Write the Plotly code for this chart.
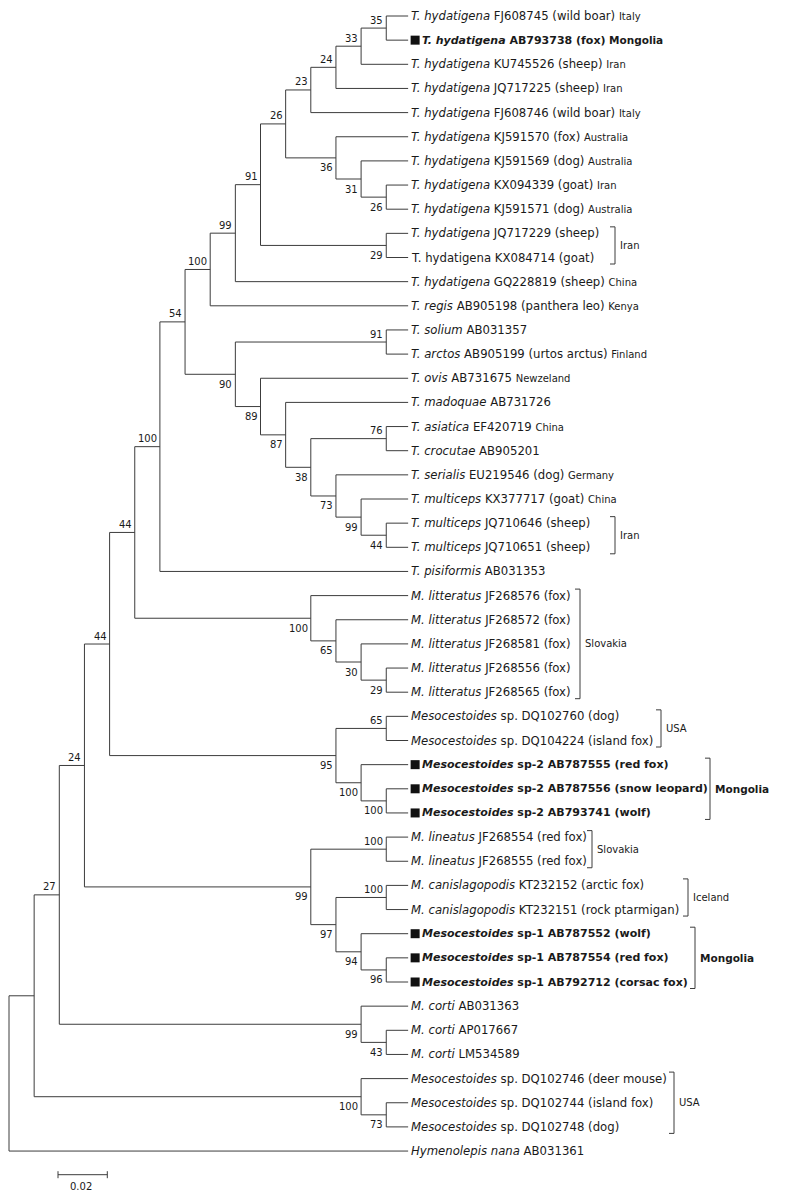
import plotly.graph_objects as go

# ---------------- data ----------------
# leaf labels: (italic part, plain part, inline country, bold/marked)
leaf_italic = [
    "T. hydatigena", "T. hydatigena", "T. hydatigena", "T. hydatigena", "T. hydatigena",
    "T. hydatigena", "T. hydatigena", "T. hydatigena", "T. hydatigena", "T. hydatigena",
    "", "T. hydatigena", "T. regis", "T. solium", "T. arctos",
    "T. ovis", "T. madoquae", "T. asiatica", "T. crocutae", "T. serialis",
    "T. multiceps", "T. multiceps", "T. multiceps", "T. pisiformis",
    "M. litteratus", "M. litteratus", "M. litteratus", "M. litteratus", "M. litteratus",
    "Mesocestoides", "Mesocestoides",
    "Mesocestoides", "Mesocestoides", "Mesocestoides",
    "M. lineatus", "M. lineatus", "M. canislagopodis", "M. canislagopodis",
    "Mesocestoides", "Mesocestoides", "Mesocestoides",
    "M. corti", "M. corti", "M. corti",
    "Mesocestoides", "Mesocestoides", "Mesocestoides",
    "Hymenolepis nana",
]
leaf_plain = [
    "FJ608745 (wild boar)", "AB793738 (fox)", "KU745526 (sheep)", "JQ717225 (sheep)", "FJ608746 (wild boar)",
    "KJ591570 (fox)", "KJ591569 (dog)", "KX094339 (goat)", "KJ591571 (dog)", "JQ717229 (sheep)",
    "T. hydatigena KX084714 (goat)", "GQ228819 (sheep)", "AB905198 (panthera leo)", "AB031357", "AB905199 (urtos arctus)",
    "AB731675", "AB731726", "EF420719", "AB905201", "EU219546 (dog)",
    "KX377717 (goat)", "JQ710646 (sheep)", "JQ710651 (sheep)", "AB031353",
    "JF268576 (fox)", "JF268572 (fox)", "JF268581 (fox)", "JF268556 (fox)", "JF268565 (fox)",
    "sp. DQ102760 (dog)", "sp. DQ104224 (island fox)",
    "sp-2 AB787555 (red fox)", "sp-2 AB787556 (snow leopard)", "sp-2 AB793741 (wolf)",
    "JF268554 (red fox)", "JF268555 (red fox)", "KT232152 (arctic fox)", "KT232151 (rock ptarmigan)",
    "sp-1 AB787552 (wolf)", "sp-1 AB787554 (red fox)", "sp-1 AB792712 (corsac fox)",
    "AB031363", "AP017667", "LM534589",
    "sp. DQ102746 (deer mouse)", "sp. DQ102744 (island fox)", "sp. DQ102748 (dog)",
    "AB031361",
]
leaf_country = [
    "Italy", "Mongolia", "Iran", "Iran", "Italy",
    "Australia", "Australia", "Iran", "Australia", "",
    "", "China", "Kenya", "", "Finland",
    "Newzeland", "", "China", "", "Germany",
    "China", "", "", "",
    "", "", "", "", "",
    "", "",
    "", "", "",
    "", "", "", "",
    "", "", "",
    "", "", "",
    "", "", "",
    "",
]
leaf_marked = [i in (1, 31, 32, 33, 38, 39, 40) for i in range(48)]

# internal nodes: id -> (depth level, children, bootstrap); children "L#" = leaf index
nodes = {
    "n35": (15, ["L0", "L1"], "35"),
    "n33": (14, ["n35", "L2"], "33"),
    "n24a": (13, ["n33", "L3"], "24"),
    "n23": (12, ["n24a", "L4"], "23"),
    "n26b": (15, ["L7", "L8"], "26"),
    "n31": (14, ["L6", "n26b"], "31"),
    "n36": (13, ["L5", "n31"], "36"),
    "n26a": (11, ["n23", "n36"], "26"),
    "n29a": (15, ["L9", "L10"], "29"),
    "n91a": (10, ["n26a", "n29a"], "91"),
    "n99a": (9, ["n91a", "L11"], "99"),
    "n100a": (8, ["n99a", "L12"], "100"),
    "n91b": (15, ["L13", "L14"], "91"),
    "n44b": (15, ["L21", "L22"], "44"),
    "n99b": (14, ["L20", "n44b"], "99"),
    "n73a": (13, ["L19", "n99b"], "73"),
    "n76": (15, ["L17", "L18"], "76"),
    "n38": (12, ["n76", "n73a"], "38"),
    "n87": (11, ["L16", "n38"], "87"),
    "n89": (10, ["L15", "n87"], "89"),
    "n90": (9, ["n91b", "n89"], "90"),
    "n54": (7, ["n100a", "n90"], "54"),
    "n100b": (6, ["n54", "L23"], "100"),
    "n29b": (15, ["L27", "L28"], "29"),
    "n30": (14, ["L26", "n29b"], "30"),
    "n65a": (13, ["L25", "n30"], "65"),
    "n100c": (12, ["L24", "n65a"], "100"),
    "n44u": (5, ["n100b", "n100c"], "44"),
    "n65b": (15, ["L29", "L30"], "65"),
    "n100d": (15, ["L32", "L33"], "100"),
    "n100e": (14, ["L31", "n100d"], "100"),
    "n95": (13, ["n65b", "n100e"], "95"),
    "n44l": (4, ["n44u", "n95"], "44"),
    "n100f": (15, ["L34", "L35"], "100"),
    "n100g": (15, ["L36", "L37"], "100"),
    "n96": (15, ["L39", "L40"], "96"),
    "n94": (14, ["L38", "n96"], "94"),
    "n97": (13, ["n100g", "n94"], "97"),
    "n99c": (12, ["n100f", "n97"], "99"),
    "n24b": (3, ["n44l", "n99c"], "24"),
    "n43": (15, ["L42", "L43"], "43"),
    "n99d": (14, ["L41", "n43"], "99"),
    "n27": (2, ["n24b", "n99d"], "27"),
    "n73b": (15, ["L45", "L46"], "73"),
    "n100h": (14, ["L44", "n73b"], "100"),
    "nA": (1, ["n27", "n100h"], ""),
    "root": (0, ["nA", "L47"], ""),
}

# bracketed groups: (first leaf, last leaf, label, bold)
bracket_first = [9, 21, 24, 29, 31, 34, 36, 38, 44]
bracket_last = [10, 22, 28, 30, 33, 35, 37, 40, 46]
bracket_label = ["Iran", "Iran", "Slovakia", "USA", "Mongolia", "Slovakia", "Iceland", "Mongolia", "USA"]
bracket_bold = [False, False, False, False, True, False, False, True, False]

SCALE_BAR = 0.02
SUBS_PER_LEVEL = 0.0102
LEAF_LEVEL = 15.87

# ---------------- geometry helpers ----------------
W, H = 794, 1190
LEVEL_PX = 25.15
X0_PX = 1.0
LEAF_Y0 = 8.0
LEAF_DY = 24.15


def px_to_x(px):
    return (px - X0_PX) / LEVEL_PX * SUBS_PER_LEVEL


def py_to_y(py):
    return (py - LEAF_Y0) / LEAF_DY


bracket_px = [607, 607, 572, 653, 702, 584, 680, 687, 666]

LINE = "#3c3c3c"
TXT = "#1a1a1a"
FONT = "DejaVu Sans"
LEAF_SIZE = 11.7
BOLD_SIZE = 11

pos = {}


def node_pos(nid):
    if nid in pos:
        return pos[nid]
    if nid.startswith("L"):
        p = (LEAF_LEVEL * SUBS_PER_LEVEL, float(nid[1:]))
    else:
        lvl, ch, _ = nodes[nid]
        ys = [node_pos(c)[1] for c in ch]
        p = (lvl * SUBS_PER_LEVEL, (ys[0] + ys[-1]) / 2)
    pos[nid] = p
    return p


for nid in nodes:
    node_pos(nid)

xs, ys = [], []
annotations = []
for nid, (lvl, ch, bs) in nodes.items():
    x, y = pos[nid]
    cys = [pos[c][1] for c in ch]
    xs += [x, x, None]
    ys += [cys[0], cys[-1], None]
    for c in ch:
        cx, cy = pos[c]
        xs += [x, cx, None]
        ys += [cy, cy, None]
    for k, c in enumerate(ch):
        if c in nodes and nodes[c][2]:
            cx, cy = pos[c]
            upper = (k == 0)
            annotations.append(dict(
                x=cx, y=cy, text=nodes[c][2], showarrow=False,
                xanchor="right", yanchor="middle", xshift=-3,
                yshift=8 if upper else -10,
                font=dict(family=FONT, size=10, color=TXT),
                borderpad=0, borderwidth=0))

# leaf labels
for i in range(48):
    it = leaf_italic[i]
    body = (f"<i>{it}</i> " if it else "") + leaf_plain[i]
    size = LEAF_SIZE
    if leaf_marked[i]:
        body = f"<b>{body}</b>"
        size = BOLD_SIZE
    c = leaf_country[i]
    if c:
        if c == "Mongolia":
            body += f" <b><span style='font-size:10.5px'>{c}</span></b>"
        else:
            body += f" <span style='font-size:10px'>{c}</span>"
    annotations.append(dict(
        x=LEAF_LEVEL * SUBS_PER_LEVEL, y=i, text=body, showarrow=False,
        xanchor="left", yanchor="middle", xshift=14 if leaf_marked[i] else 3,
        font=dict(family=FONT, size=size, color=TXT), borderpad=0, borderwidth=0))

# brackets
tick = px_to_x(5) - px_to_x(0)
ext = 6.5 / LEAF_DY
for f, l, bx, lab, bold in zip(bracket_first, bracket_last, bracket_px, bracket_label, bracket_bold):
    x = px_to_x(bx)
    y0, y1 = f - ext, l + ext
    xs += [x - tick, x, x, x - tick, None]
    ys += [y0, y0, y1, y1, None]
    annotations.append(dict(
        x=x, y=(y0 + y1) / 2, text=f"<b>{lab}</b>" if bold else lab, showarrow=False,
        xanchor="left", yanchor="middle", xshift=5,
        font=dict(family=FONT, size=10.5 if bold else 10, color=TXT),
        borderpad=0, borderwidth=0))

# scale bar
sb_x0 = px_to_x(50)
sb_y = py_to_y(1166.7)
th = 3.5 / LEAF_DY
xs += [sb_x0, sb_x0 + SCALE_BAR, None, sb_x0, sb_x0, None, sb_x0 + SCALE_BAR, sb_x0 + SCALE_BAR, None]
ys += [sb_y, sb_y, None, sb_y - th, sb_y + th, None, sb_y - th, sb_y + th, None]
annotations.append(dict(
    x=sb_x0 + SCALE_BAR / 2, y=py_to_y(1178), text=str(SCALE_BAR), showarrow=False,
    xanchor="center", yanchor="middle", xshift=-2,
    font=dict(family=FONT, size=10, color=TXT), borderpad=0, borderwidth=0))

fig = go.Figure()
fig.add_trace(go.Scatter(x=xs, y=ys, mode="lines", line=dict(color=LINE, width=1),
                         hoverinfo="skip", showlegend=False))

# filled squares for Mongolian isolates, just right of the leaf line end
sq_dx = px_to_x(7) - px_to_x(0)
mk_y = [i for i in range(48) if leaf_marked[i]]
fig.add_trace(go.Scatter(
    x=[LEAF_LEVEL * SUBS_PER_LEVEL + sq_dx] * len(mk_y), y=mk_y, mode="markers",
    marker=dict(symbol="square", size=9, color="#111111", line=dict(width=0)),
    hoverinfo="skip", showlegend=False))

fig.update_layout(
    width=W, height=H, autosize=False,
    margin=dict(l=0, r=0, t=0, b=0, pad=0),
    paper_bgcolor="white", plot_bgcolor="white",
    xaxis=dict(range=[px_to_x(0), px_to_x(W)], visible=False, fixedrange=True),
    yaxis=dict(range=[py_to_y(H), py_to_y(0)], visible=False, fixedrange=True),
    annotations=annotations,
    hovermode=False,
)

fig.write_html("out.html")
